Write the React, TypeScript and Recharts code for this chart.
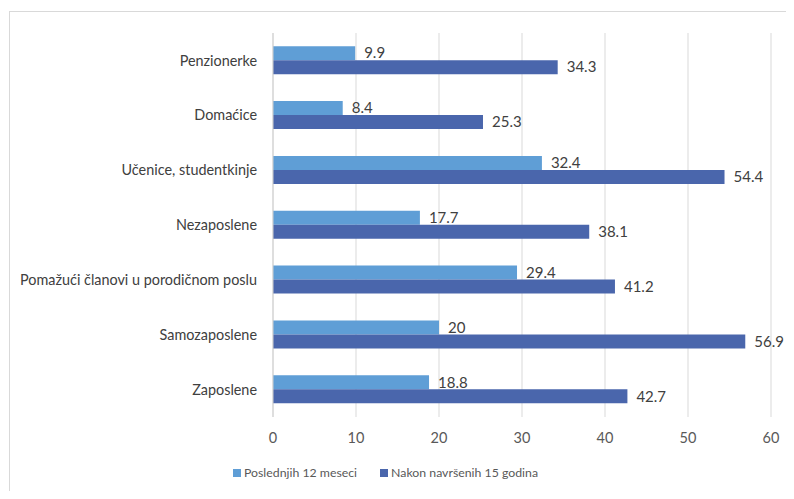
import { BarChart, Bar, XAxis, YAxis, CartesianGrid, LabelList } from "recharts";

const categories = [
  "Penzionerke",
  "Domaćice",
  "Učenice, studentkinje",
  "Nezaposlene",
  "Pomažući članovi u porodičnom poslu",
  "Samozaposlene",
  "Zaposlene",
];
const last12 = [9.9, 8.4, 32.4, 17.7, 29.4, 20, 18.8];
const after15 = [34.3, 25.3, 54.4, 38.1, 41.2, 56.9, 42.7];
const xTicks = [0, 10, 20, 30, 40, 50, 60];
const seriesNames = ["Poslednjih 12 meseci", "Nakon navršenih 15 godina"];

const colors = ["#5F9ED6", "#4A66AC"];
const font = "Lato, 'Open Sans', sans-serif";

export default function App() {
  const data = categories.map((name, i) => ({
    name,
    a: last12[i],
    b: after15[i],
  }));

  return (
    <div
      style={{
        position: "relative",
        width: 794,
        height: 499,
        margin: -8,
        background: "#fff",
        overflow: "hidden",
        fontFamily: font,
      }}
    >
      <div
        style={{
          position: "absolute",
          left: 9,
          top: 11,
          width: 820,
          height: 520,
          border: "1px solid #d9d9d9",
        }}
      />
      <div style={{ position: "absolute", left: 0, top: 0 }}>
        <BarChart
          width={794}
          height={499}
          data={data}
          layout="vertical"
          margin={{ top: 33, right: 23, bottom: 52, left: 0 }}
          barGap={0}
          barCategoryGap="24%"
        >
          <CartesianGrid horizontal={false} stroke="#d9d9d9" />
          <XAxis
            type="number"
            domain={[0, 60]}
            ticks={xTicks}
            axisLine={false}
            tickLine={false}
            tickMargin={10}
            height={30}
            tick={{ fill: "#595959", fontSize: 14.5, fontFamily: font }}
          />
          <YAxis
            type="category"
            dataKey="name"
            width={273}
            axisLine={{ stroke: "#d0d0d0" }}
            tickLine={false}
            tickMargin={10}
            tick={{ fill: "#404040", fontSize: 14.4, fontFamily: font }}
          />
          <Bar dataKey="a" fill={colors[0]} isAnimationActive={false}>
            <LabelList
              dataKey="a"
              position="right"
              offset={9}
              fill="#404040"
              fontSize={15}
              fontFamily={font}
            />
          </Bar>
          <Bar dataKey="b" fill={colors[1]} isAnimationActive={false}>
            <LabelList
              dataKey="b"
              position="right"
              offset={9}
              fill="#404040"
              fontSize={15}
              fontFamily={font}
            />
          </Bar>
        </BarChart>
      </div>
      <div
        style={{
          position: "absolute",
          top: 465,
          left: 233,
          display: "flex",
          alignItems: "center",
          fontSize: 12.3,
          color: "#595959",
          whiteSpace: "nowrap",
        }}
      >
        {seriesNames.map((n, i) => (
          <div
            key={n}
            style={{ display: "flex", alignItems: "center", marginRight: 23 }}
          >
            <span
              style={{
                display: "inline-block",
                width: 8,
                height: 8,
                background: colors[i],
                marginRight: 3,
              }}
            />
            {n}
          </div>
        ))}
      </div>
    </div>
  );
}
